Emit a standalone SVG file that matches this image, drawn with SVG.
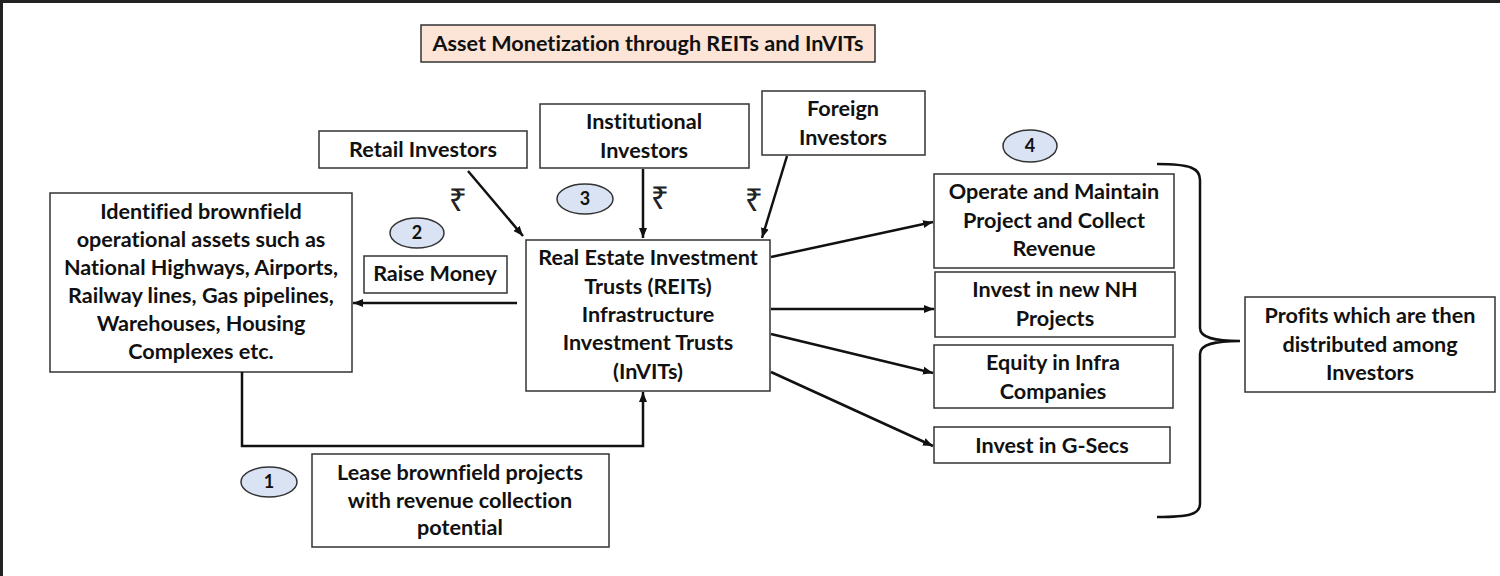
<svg xmlns="http://www.w3.org/2000/svg" width="1500" height="576" viewBox="0 0 1500 576">
<style>
.box{fill:#fff;stroke:#333;stroke-width:1.5}
.t{font-family:Lato,"Liberation Sans",sans-serif;font-weight:bold;font-size:21.6px;fill:#111;text-anchor:middle;font-variant-ligatures:none}
.num{fill:#dae3f3;stroke:#333;stroke-width:1.5}
.n{font-family:Lato,"Liberation Sans",sans-serif;font-weight:bold;font-size:18px;fill:#111;text-anchor:middle}
.rs{font-family:"Noto Sans","DejaVu Sans",sans-serif;font-size:32px;fill:#222;text-anchor:middle}
.c{fill:none;stroke:#111;stroke-width:2.5}
</style>
<defs>
<marker id="ah" markerUnits="userSpaceOnUse" markerWidth="12" markerHeight="10" refX="10" refY="5" orient="auto">
<path d="M0,1 L10,5 L0,9 Z" fill="#111"/>
</marker>
</defs>
<rect width="1500" height="576" fill="#fff"/>
<path d="M1.5,576 V1.5 H1500" fill="none" stroke="#222" stroke-width="3"/>

<g id="title">
<rect x="421" y="25" width="454" height="37" fill="#fce4d6" stroke="#333" stroke-width="1.5"/>
<text class="t" x="648" y="51" style="font-size:21.6px">Asset Monetization through REITs and InVITs</text>
</g>

<g id="retail">
<rect class="box" x="319" y="131" width="208" height="37"/>
<text class="t" x="423" y="157">Retail Investors</text>
</g>
<g id="institutional">
<rect class="box" x="540" y="104" width="209" height="64"/>
<text class="t" x="644" y="129">Institutional</text>
<text class="t" x="644" y="158">Investors</text>
</g>
<g id="foreign">
<rect class="box" x="762" y="91" width="163" height="64"/>
<text class="t" x="843" y="116">Foreign</text>
<text class="t" x="843" y="145">Investors</text>
</g>

<g id="assets">
<rect class="box" x="50" y="193" width="302" height="179"/>
<text class="t" x="201" y="219">Identified brownfield</text>
<text class="t" x="201" y="247">operational assets such as</text>
<text class="t" x="201" y="275">National Highways, Airports,</text>
<text class="t" x="201" y="303">Railway lines, Gas pipelines,</text>
<text class="t" x="201" y="331">Warehouses, Housing</text>
<text class="t" x="201" y="359">Complexes etc.</text>
</g>

<g id="raise">
<rect class="box" x="364" y="256" width="143" height="37"/>
<text class="t" x="435" y="281">Raise Money</text>
</g>

<g id="reits">
<rect class="box" x="526" y="240" width="244" height="151"/>
<text class="t" x="648" y="265">Real Estate Investment</text>
<text class="t" x="648" y="294">Trusts (REITs)</text>
<text class="t" x="648" y="322">Infrastructure</text>
<text class="t" x="648" y="350">Investment Trusts</text>
<text class="t" x="648" y="379">(InVITs)</text>
</g>

<g id="lease">
<rect class="box" x="312" y="454" width="297" height="93"/>
<text class="t" x="460" y="480">Lease brownfield projects</text>
<text class="t" x="460" y="508">with revenue collection</text>
<text class="t" x="460" y="535">potential</text>
</g>

<g id="operate">
<rect class="box" x="934" y="174" width="240" height="94"/>
<text class="t" x="1054" y="199">Operate and Maintain</text>
<text class="t" x="1054" y="228">Project and Collect</text>
<text class="t" x="1054" y="256">Revenue</text>
</g>
<g id="newnh">
<rect class="box" x="935" y="272" width="240" height="65"/>
<text class="t" x="1055" y="297">Invest in new NH</text>
<text class="t" x="1055" y="326">Projects</text>
</g>
<g id="equity">
<rect class="box" x="934" y="345" width="239" height="63"/>
<text class="t" x="1053" y="370">Equity in Infra</text>
<text class="t" x="1053" y="399">Companies</text>
</g>
<g id="gsecs">
<rect class="box" x="934" y="427" width="236" height="36"/>
<text class="t" x="1052" y="453">Invest in G-Secs</text>
</g>

<g id="profits">
<rect class="box" x="1245" y="297" width="250" height="95"/>
<text class="t" x="1370" y="323">Profits which are then</text>
<text class="t" x="1370" y="352">distributed among</text>
<text class="t" x="1370" y="380">Investors</text>
</g>

<g id="step1"><ellipse class="num" cx="269" cy="482" rx="28" ry="15"/><text class="n" x="269" y="488">1</text></g>
<g id="step2"><ellipse class="num" cx="417" cy="233" rx="27" ry="15"/><text class="n" x="417" y="239">2</text></g>
<g id="step3"><ellipse class="num" cx="585" cy="199" rx="28" ry="15"/><text class="n" x="585" y="205">3</text></g>
<g id="step4"><ellipse class="num" cx="1030" cy="146" rx="27" ry="16"/><text class="n" x="1030" y="152">4</text></g>

<g id="rupees">
<text class="rs" x="458" y="211">₹</text>
<text class="rs" x="660" y="209">₹</text>
<text class="rs" x="754" y="211">₹</text>
</g>

<g id="connectors">
<line class="c" x1="468" y1="171" x2="523" y2="236" marker-end="url(#ah)"/>
<line class="c" x1="643" y1="169" x2="643" y2="238" marker-end="url(#ah)"/>
<line class="c" x1="787" y1="156" x2="762" y2="238" marker-end="url(#ah)"/>
<line class="c" x1="517" y1="303" x2="353" y2="303" marker-end="url(#ah)"/>
<polyline class="c" points="242,372 242,446 643,446 643,392" marker-end="url(#ah)"/>
<line class="c" x1="771" y1="257" x2="933" y2="222" marker-end="url(#ah)"/>
<line class="c" x1="771" y1="309" x2="934" y2="309" marker-end="url(#ah)"/>
<line class="c" x1="771" y1="334" x2="933" y2="373" marker-end="url(#ah)"/>
<line class="c" x1="771" y1="372" x2="933" y2="446" marker-end="url(#ah)"/>
<path class="c" d="M1157,164 C1190,164 1200,168 1200,180 V328 C1200,338 1215,341 1240,341 C1215,341 1200,344 1200,354 V504 C1200,514 1190,517 1157,517"/>
</g>
</svg>
